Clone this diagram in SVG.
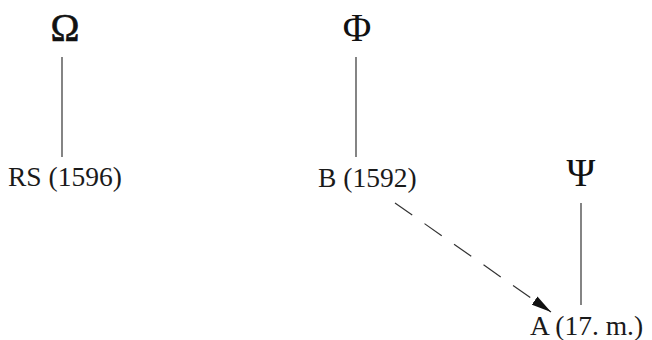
<svg xmlns="http://www.w3.org/2000/svg" width="652" height="340" viewBox="0 0 652 340">
<style>
.lbl{font-family:"Liberation Serif","DejaVu Serif",serif;font-size:27.5px;fill:#1a1a1a}
.grk{font-family:"Liberation Serif","DejaVu Serif",serif;font-size:39px;fill:#111;text-anchor:middle}
.edge{stroke:#333;stroke-width:1.2;fill:none}
.dash{stroke-dasharray:21 15}
</style>
<defs>
<marker id="arr" viewBox="0 0 20 10" refX="20" refY="5" markerWidth="20" markerHeight="10" markerUnits="userSpaceOnUse" orient="auto">
<path d="M0,0 L20,5 L0,10 Z" fill="#111"/>
</marker>
</defs>
<g id="omega"><text class="grk" x="65" y="41" style="stroke:#111;stroke-width:0.6">Ω</text></g>
<g id="phi"><text class="grk" x="357" y="41">Φ</text></g>
<g id="psi"><text class="grk" x="581" y="186">Ψ</text></g>
<g id="rs"><text class="lbl" x="8" y="186">RS (1596)</text></g>
<g id="b"><text class="lbl" x="318" y="187">B (1592)</text></g>
<g id="a"><text class="lbl" x="530" y="335">A (17. m.)</text></g>
<g id="connectors">
<line class="edge" x1="62" y1="57" x2="62" y2="157"/>
<line class="edge" x1="356" y1="57" x2="356" y2="157"/>
<line class="edge" x1="581" y1="203" x2="581" y2="305"/>
<line class="edge dash" x1="395" y1="203" x2="551" y2="312" marker-end="url(#arr)"/>
</g>
</svg>
